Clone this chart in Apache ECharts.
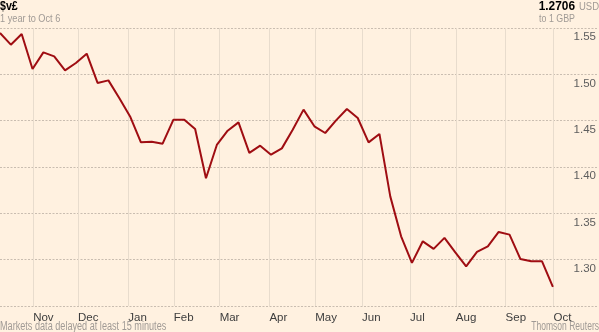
<!DOCTYPE html>
<html>
<head>
<meta charset="utf-8">
<script src="https://cdn.jsdelivr.net/npm/echarts@6/dist/echarts.min.js"></script>
<style>
html,body{margin:0;padding:0;background:#fff1e0;}
#chart{width:599px;height:332px;}
</style>
</head>
<body>
<div id="chart"></div>
<script>
// Weekly USD per GBP, one year to Oct 6 (x = week index)
const rates = [
  1.5446, 1.5320, 1.5435, 1.5058, 1.5237, 1.5194, 1.5043, 1.5122, 1.5223, 1.4907,
  1.4935, 1.4745, 1.4546, 1.4266, 1.4273, 1.4252, 1.4511, 1.4511, 1.4410, 1.3878,
  1.4238, 1.4392, 1.4482, 1.4152, 1.4230, 1.4133, 1.4201, 1.4403, 1.4619, 1.4439,
  1.4367, 1.4503, 1.4626, 1.4529, 1.4266, 1.4357, 1.3683, 1.3252, 1.2965, 1.3198,
  1.3116, 1.3235, 1.3079, 1.2928, 1.3084, 1.3144, 1.3299, 1.3270, 1.3008, 1.2982,
  1.2982, 1.2706
];
// Month tick labels and their positions in week units
const monthLabels = ['Nov','Dec','Jan','Feb','Mar','Apr','May','Jun','Jul','Aug','Sep','Oct'];
const monthTickPos = [3.06, 7.20, 11.83, 16.03, 20.26, 24.85, 29.08, 33.40, 37.82, 42.05, 46.64, 51.06];
const yTicks = [1.25, 1.30, 1.35, 1.40, 1.45, 1.50, 1.55];

const FONT = '"Liberation Sans", Arial, sans-serif';
const chart = echarts.init(document.getElementById('chart'));
const seriesData = rates.map((v, i) => [i, v]);

function txt(text, x, y, font, fill, align, sx) {
  return {
    type: 'text', x: x, y: y, scaleX: sx || 1, scaleY: 1,
    style: { text: text, font: font, fill: fill, align: align || 'left', verticalAlign: 'top' }
  };
}

chart.setOption({
  backgroundColor: '#fff1e0',
  animation: false,
  grid: { left: 0, right: 0, top: 28, bottom: 26, containLabel: false },
  xAxis: {
    type: 'value',
    min: 0,
    max: 55.07,
    axisLine: { show: false },
    splitLine: { show: false },
    axisTick: {
      show: true,
      inside: true,
      length: 278,
      customValues: monthTickPos,
      lineStyle: { color: '#e8dccd', width: 1 }
    },
    axisLabel: {
      customValues: monthTickPos,
      align: 'left',
      margin: 6,
      fontFamily: FONT,
      fontSize: 11.5,
      color: '#3d3d3d',
      formatter: function (v) {
        let best = 0, bd = 1e9;
        monthTickPos.forEach((p, i) => { const d = Math.abs(p - v); if (d < bd) { bd = d; best = i; } });
        return monthLabels[best];
      }
    }
  },
  yAxis: {
    type: 'value',
    position: 'right',
    min: yTicks[0],
    max: yTicks[yTicks.length - 1],
    interval: 0.05,
    axisLine: { show: false },
    axisTick: { show: false },
    splitLine: { show: true, lineStyle: { color: '#c9bdb0', type: [2, 1.5], width: 1 } },
    axisLabel: {
      inside: true,
      margin: 1,
      verticalAlign: 'top',
      padding: [3, 0, 0, 0],
      showMinLabel: false,
      fontFamily: FONT,
      fontSize: 11.5,
      color: '#5e5e5e',
      formatter: v => v.toFixed(2)
    }
  },
  series: [{
    type: 'line',
    data: seriesData,
    showSymbol: false,
    lineStyle: { color: '#9f0d12', width: 2 },
    z: 5
  }],
  graphic: [
    txt('$v£', 0, 0, 'bold 13px ' + FONT, '#000', 'left', 0.82),
    txt('1 year to Oct 6', 0, 13, '11.5px ' + FONT, '#a09a95', 'left', 0.8),
    txt('1.2706', 575, 0, 'bold 12.5px ' + FONT, '#000', 'right', 0.95),
    txt('USD', 599, 2, '10px ' + FONT, '#a09a95', 'right', 0.95),
    txt('to 1 GBP', 575, 13, '11.5px ' + FONT, '#a09a95', 'right', 0.77),
    txt('Markets data delayed at least 15 minutes', 0, 321, '12px ' + FONT, '#a09a95', 'left', 0.76),
    txt('Thomson Reuters', 599, 321, '12px ' + FONT, '#a09a95', 'right', 0.71)
  ]
});
</script>
</body>
</html>
